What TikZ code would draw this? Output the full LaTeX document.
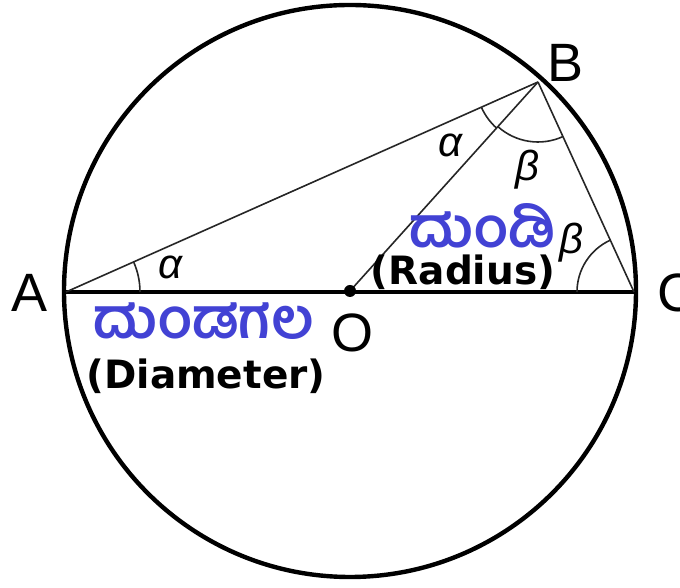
\documentclass[tikz,border=0pt]{standalone}
\usepackage{fontspec}
\setmainfont{Liberation Sans}
\newfontfamily\kannada[Script=Kannada]{Hind Mysuru}
\newfontfamily\boldlabel{DejaVu Sans}
\usetikzlibrary{angles}
\definecolor{kanblue}{RGB}{66,66,212}

\begin{document}
\begin{tikzpicture}[x=1pt, y=1pt,
        rim/.style={line width=4.4pt},
        chord/.style={line width=1.6pt, black!85},
        anglemark/.style={draw, line width=1.6pt, black!85},
        point/.style={font=\fontsize{54}{54}\selectfont, inner sep=0},
        greek/.style={font=\fontsize{42}{42}\selectfont\itshape, inner sep=0},
        kan/.style={font=\fontsize{56}{56}\selectfont\kannada\bfseries, text=kanblue, inner sep=0},
        eng/.style={font=\fontsize{39}{39}\selectfont\boldlabel\bfseries, inner sep=0}
    ]
        \useasboundingbox (0,0) rectangle (680,588);

        % Points on the circle
        \coordinate (O) at (350,297);
        \coordinate (A) at (66,296);
        \coordinate (B) at (538,506);
        \coordinate (C) at (634,296);

        % Circle and diameter
        \draw[rim] (O) circle (286pt);
        \draw[rim] (A) -- (C);

        % Chords and radius
        \draw[chord] (A) -- (B);
        \draw[chord] (B) -- (C);
        \draw[chord] (O) -- (B);
        \fill (O) circle (6pt);

        % Angle marks
        \pic[anglemark, angle radius=74pt] {angle = C--A--B};
        \pic[anglemark, angle radius=62pt] {angle = A--B--O};
        \pic[anglemark, angle radius=60pt] {angle = O--B--C};
        \pic[anglemark, angle radius=57pt] {angle = B--C--A};

        % Point labels
        \node[point] (la) at (30,295) {A};
        \node[point] (lb) at (566,525) {B};
        \node[point] (lc) at (677,295) {C};
        \node[point] (lo) at (352,255) {O};

        % Angle labels
        \node[greek] (alphaA) at (170,321) {α};
        \node[greek] (alphaB) at (450,443) {α};
        \node[greek] (betaB) at (527,418) {β};
        \node[greek] (betaC) at (571,345) {β};

        % Names
        \node[kan] (radkan) at (482,362) {ದುಂಡಿ};
        \node[eng] (radeng) at (463,316) {(Radius)};
        \node[kan] (diakan) at (204,267) {ದುಂಡಗಲ};
        \node[eng] (diaeng) at (206,212) {(Diameter)};
    \end{tikzpicture}
\end{document}
